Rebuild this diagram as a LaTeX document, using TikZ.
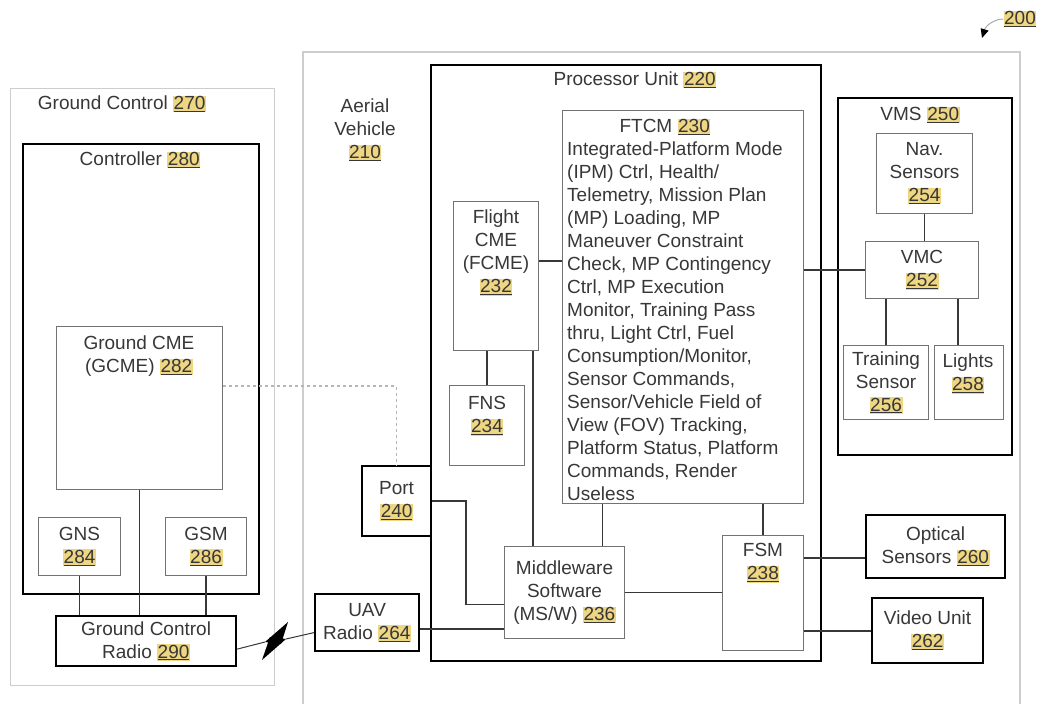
\documentclass[tikz,border=0pt]{standalone}
\usepackage{fontspec}
\setmainfont{Liberation Sans}
\usetikzlibrary{arrows.meta,positioning}
\definecolor{PatInk}{RGB}{55,55,55}
\definecolor{PatLine}{RGB}{115,115,115}
\definecolor{PatFaint}{RGB}{205,205,205}
\definecolor{PatWire}{RGB}{55,55,55}
\definecolor{PatNum}{RGB}{238,214,130}
\newcommand{\refnum}[1]{{\setlength{\fboxsep}{0.6pt}\colorbox{PatNum}{\underline{#1}}}}

\begin{document}
\begin{tikzpicture}[
    x=1pt,y=-1pt,
    txt/.style={align=center,inner sep=0pt,text=PatInk,font=\fontsize{19}{23}\selectfont},
    sz/.style 2 args={minimum width=#1,minimum height=#2},
    box/.style={txt,draw=PatLine,line width=1.1pt,anchor=north west},
    hbox/.style={txt,draw=black,line width=2.2pt,anchor=north west},
    outer/.style={draw=PatFaint,line width=1.2pt,inner sep=0pt,anchor=north west},
    wire/.style={draw=PatWire,line width=1.8pt}
  ]
    \useasboundingbox (0,0) rectangle (1038,704);

    % ground side
    \node[outer,sz={264}{597}] (gc) at (10,88) {};
    \node[txt] (gc-t) at (122,104) {Ground Control \refnum{270}};
    \node[hbox,sz={236}{450}] (ctl) at (22,143) {};
    \node[txt] (ctl-t) at (140,160) {Controller \refnum{280}};
    \node[box,sz={166}{163}] (gcme) at (56,326) {};
    \node[txt] (gcme-t) at (139,356) {Ground CME\\(GCME) \refnum{282}};
    \node[box,sz={82}{58}] (gns) at (38,517) {GNS\\\refnum{284}};
    \node[box,sz={81}{58}] (gsm) at (165,517) {GSM\\\refnum{286}};
    \node[hbox,sz={180}{50}] (gcr) at (55,615) {Ground Control\\Radio \refnum{290}};

    % aerial vehicle
    \draw[outer] (303,704) |- (1020,52) -- (1020,704);
    \node[txt] (av-t) at (365,130) {Aerial\\Vehicle\\\refnum{210}};
    \node[hbox,sz={390}{596}] (pu) at (430,64) {};
    \node[txt] (pu-t) at (635,80) {Processor Unit \refnum{220}};
    \node[box,sz={241}{393}] (ftcm) at (562,110) {};
    \node[txt] (ftcm-t) at (665,127) {FTCM \refnum{230}};
    \node[txt,align=left,anchor=north west] (ftcm-b) at (567,142) {Integrated-Platform Mode\\(IPM) Ctrl, Health/\\Telemetry, Mission Plan\\(MP) Loading, MP\\Maneuver Constraint\\Check, MP Contingency\\Ctrl, MP Execution\\Monitor, Training Pass\\thru, Light Ctrl, Fuel\\Consumption/Monitor,\\Sensor Commands,\\Sensor/Vehicle Field of\\View (FOV) Tracking,\\Platform Status, Platform\\Commands, Render\\Useless};
    \node[box,sz={85}{149}] (fcme) at (453,201) {};
    \node[txt] (fcme-t) at (496,253) {Flight\\CME\\(FCME)\\\refnum{232}};
    \node[box,sz={75}{80}] (fns) at (449,385) {};
    \node[txt] (fns-t) at (487,416) {FNS\\\refnum{234}};
    \node[hbox,sz={69}{70}] (port) at (361,465) {Port\\\refnum{240}};
    \node[hbox,sz={104}{57}] (uav) at (314,593) {UAV\\Radio \refnum{264}};
    \node[box,sz={120}{92}] (msw) at (504,546) {Middleware\\Software\\(MS/W) \refnum{236}};
    \node[box,sz={81}{115}] (fsm) at (722,535) {};
    \node[txt] (fsm-t) at (763,563) {FSM\\\refnum{238}};
    \node[hbox,sz={139}{63}] (opt) at (865,514) {Optical\\Sensors \refnum{260}};
    \node[hbox,sz={111}{65}] (vid) at (871,597) {Video Unit\\\refnum{262}};

    % vms
    \node[hbox,sz={174}{357}] (vms) at (837,97) {};
    \node[txt] (vms-t) at (920,115) {VMS \refnum{250}};
    \node[box,sz={96}{80}] (nav) at (876,133) {Nav.\\Sensors\\\refnum{254}};
    \node[box,sz={113}{57}] (vmc) at (865,241) {VMC\\\refnum{252}};
    \node[box,sz={85}{74}] (trn) at (843,345) {Training\\Sensor\\\refnum{256}};
    \node[box,sz={69}{74}] (lgt) at (934,345) {};
    \node[txt] (lgt-t) at (968,374) {Lights\\\refnum{258}};

    \node[txt] (fig) at (1020,19) {\refnum{200}};
    \draw[draw=PatLine!60,line width=1pt,-{Triangle[length=9pt,width=8pt,color=black]}] (fig.west) .. controls (995,19) and (986,25) .. (982,38);

    % connections
    \draw[wire] (gns.south) -- (gns.south |- gcr.north);
    \draw[wire] (gcme.south) -- (gcme.south |- gcr.north);
    \draw[wire] (gsm.south) -- (gsm.south |- gcr.north);
    \draw[draw=PatFaint!70!gray,line width=1.2pt,dashed] ([yshift=22pt]gcme.east) -| (port.north);
    \draw[wire] ([yshift=15pt]fcme.east) -- ([yshift=15pt]fcme.east -| ftcm.west);
    \draw[wire] (fns.north) -- (fns.north |- fcme.south);
    \draw[wire] ([xshift=-6pt]fcme.south east) -- ([xshift=-6pt]fcme.south east |- msw.north);
    \draw[wire] (port.east) -- ++(34,0) |- ([yshift=-12pt]msw.west);
    \draw[wire] ([yshift=-6pt]uav.east) -- ([yshift=-6pt]uav.east -| msw.west);
    \draw[wire] ([xshift=38pt]msw.north) -- ([xshift=38pt]msw.north |- ftcm.south);
    \draw[wire] (fsm.north) -- (fsm.north |- ftcm.south);
    \draw[wire] (msw.east) -- (msw.east -| fsm.west);
    \draw[wire] ([yshift=35pt]fsm.east) -- ([yshift=35pt]fsm.east -| opt.west);
    \draw[wire] (vid.west -| fsm.east) -- (vid.west);
    \draw[wire] (vmc.west -| ftcm.east) -- (vmc.west);
    \draw[wire] (nav.south) -- (nav.south |- vmc.north);
    \draw[wire] (trn.north) -- (trn.north |- vmc.south);
    \draw[wire] ([xshift=-11pt]lgt.north) -- ([xshift=-11pt]lgt.north |- vmc.south);

    % radio link
    \coordinate (bl) at (265,642);
    \coordinate (br) at (286,639);
    \draw[wire,line width=1pt] ([yshift=-8pt]gcr.east) -- (bl);
    \draw[wire,line width=1pt] (br) -- ([yshift=-10pt]uav.west);
    \fill[black] (288,622) -- (bl) -- (281,644) -- cycle;
    \fill[black] (262,660) -- (br) -- (270,637) -- cycle;
\end{tikzpicture}
\end{document}
